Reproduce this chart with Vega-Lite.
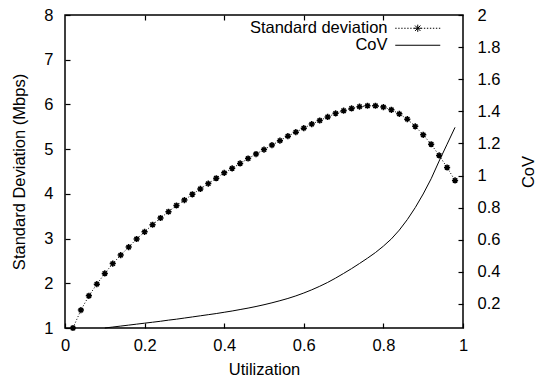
{
  "$schema": "https://vega.github.io/schema/vega-lite/v6.json",
  "width": 398,
  "height": 313,
  "autosize": "none",
  "padding": {"left": 65, "top": 15, "right": 75, "bottom": 52},
  "background": "white",
  "config": {
    "view": {"stroke": "black", "strokeWidth": 1.5},
    "font": "Liberation Sans",
    "axis": {
      "labelFont": "Liberation Sans",
      "titleFont": "Liberation Sans",
      "labelFontSize": 16.5,
      "titleFontSize": 16.5,
      "labelColor": "black",
      "titleColor": "black",
      "titleFontWeight": "normal",
      "grid": false,
      "domain": false,
      "zindex": 1
    }
  },
  "datasets": {
    "sd": [
      {"u": 0.02, "sd": 1.00}, {"u": 0.04, "sd": 1.40}, {"u": 0.06, "sd": 1.72}, {"u": 0.08, "sd": 1.98},
      {"u": 0.10, "sd": 2.22}, {"u": 0.12, "sd": 2.44}, {"u": 0.14, "sd": 2.63}, {"u": 0.16, "sd": 2.81},
      {"u": 0.18, "sd": 2.99}, {"u": 0.20, "sd": 3.15}, {"u": 0.22, "sd": 3.31}, {"u": 0.24, "sd": 3.46},
      {"u": 0.26, "sd": 3.60}, {"u": 0.28, "sd": 3.74}, {"u": 0.30, "sd": 3.86}, {"u": 0.32, "sd": 3.99},
      {"u": 0.34, "sd": 4.11}, {"u": 0.36, "sd": 4.23}, {"u": 0.38, "sd": 4.35}, {"u": 0.40, "sd": 4.47},
      {"u": 0.42, "sd": 4.57}, {"u": 0.44, "sd": 4.68}, {"u": 0.46, "sd": 4.79}, {"u": 0.48, "sd": 4.89},
      {"u": 0.50, "sd": 4.99}, {"u": 0.52, "sd": 5.09}, {"u": 0.54, "sd": 5.19}, {"u": 0.56, "sd": 5.29},
      {"u": 0.58, "sd": 5.38}, {"u": 0.60, "sd": 5.47}, {"u": 0.62, "sd": 5.56}, {"u": 0.64, "sd": 5.64},
      {"u": 0.66, "sd": 5.72}, {"u": 0.68, "sd": 5.80}, {"u": 0.70, "sd": 5.86}, {"u": 0.72, "sd": 5.91},
      {"u": 0.74, "sd": 5.95}, {"u": 0.76, "sd": 5.97}, {"u": 0.78, "sd": 5.97}, {"u": 0.80, "sd": 5.94},
      {"u": 0.82, "sd": 5.88}, {"u": 0.84, "sd": 5.79}, {"u": 0.86, "sd": 5.67}, {"u": 0.88, "sd": 5.51},
      {"u": 0.90, "sd": 5.32}, {"u": 0.92, "sd": 5.11}, {"u": 0.94, "sd": 4.86}, {"u": 0.96, "sd": 4.59},
      {"u": 0.98, "sd": 4.30}
    ],
    "cov": [
      {"u": 0.10, "cov": 0.050}, {"u": 0.12, "cov": 0.056}, {"u": 0.14, "cov": 0.062}, {"u": 0.16, "cov": 0.068},
      {"u": 0.18, "cov": 0.074}, {"u": 0.20, "cov": 0.080}, {"u": 0.22, "cov": 0.086}, {"u": 0.24, "cov": 0.092},
      {"u": 0.26, "cov": 0.099}, {"u": 0.28, "cov": 0.105}, {"u": 0.30, "cov": 0.112}, {"u": 0.32, "cov": 0.119},
      {"u": 0.34, "cov": 0.126}, {"u": 0.36, "cov": 0.133}, {"u": 0.38, "cov": 0.140}, {"u": 0.40, "cov": 0.148},
      {"u": 0.42, "cov": 0.156}, {"u": 0.44, "cov": 0.165}, {"u": 0.46, "cov": 0.174}, {"u": 0.48, "cov": 0.184},
      {"u": 0.50, "cov": 0.195}, {"u": 0.52, "cov": 0.207}, {"u": 0.54, "cov": 0.220}, {"u": 0.56, "cov": 0.234},
      {"u": 0.58, "cov": 0.250}, {"u": 0.60, "cov": 0.268}, {"u": 0.62, "cov": 0.288}, {"u": 0.64, "cov": 0.310},
      {"u": 0.66, "cov": 0.334}, {"u": 0.68, "cov": 0.361}, {"u": 0.70, "cov": 0.390}, {"u": 0.72, "cov": 0.420},
      {"u": 0.74, "cov": 0.452}, {"u": 0.76, "cov": 0.485}, {"u": 0.78, "cov": 0.520}, {"u": 0.80, "cov": 0.560},
      {"u": 0.82, "cov": 0.605}, {"u": 0.84, "cov": 0.660}, {"u": 0.86, "cov": 0.725}, {"u": 0.88, "cov": 0.800},
      {"u": 0.90, "cov": 0.885}, {"u": 0.92, "cov": 0.980}, {"u": 0.94, "cov": 1.090}, {"u": 0.96, "cov": 1.195},
      {"u": 0.98, "cov": 1.300}
    ]
  },
  "layer": [
    {
      "data": {"name": "sd"},
      "layer": [
        {
          "mark": {"type": "line", "strokeDash": [1, 2], "strokeWidth": 1},
          "encoding": {
            "color": {
              "datum": "Standard deviation",
              "type": "nominal",
              "scale": {"domain": ["Standard deviation", "CoV"], "range": ["black", "black"]},
              "legend": {
                "orient": "none",
                "legendX": 344.5,
                "legendY": 5,
                "title": null,
                "padding": 0,
                "symbolType": "stroke",
                "symbolSize": 100,
                "symbolStrokeWidth": 1,
                "symbolStrokeColor": "black",
                "labelAlign": "right",
                "labelOffset": -38.5,
                "labelFont": "Liberation Sans",
                "labelFontSize": 16.5,
                "labelColor": "black",
                "rowPadding": 0,
                "encode": {
                  "symbols": {
                    "update": {
                      "shape": {"signal": "datum.value == 'CoV' ? 'M-4.5,0L4.5,0' : 'M-4.5,0L-4.23,0M-3.9,0L-3.63,0M-3.3,0L-3.03,0M-2.7,0L-2.43,0M-2.1,0L-1.83,0M-1.5,0L-1.23,0M-0.9,0L-0.63,0M0.63,0L0.9,0M1.23,0L1.5,0M1.83,0L2.1,0M2.43,0L2.7,0M3.03,0L3.3,0M3.63,0L3.9,0M4.23,0L4.5,0M-0.72,0L0.72,0M0,-0.72L0,0.72M-0.54,-0.54L0.54,0.54M-0.54,0.54L0.54,-0.54'"},
                      "strokeWidth": {"value": 1}
                    }
                  }
                }
              }
            }
          }
        },
        {
          "mark": {
            "type": "point",
            "shape": "M-1,0L1,0M0,-1L0,1M-0.7,-0.7L0.7,0.7M-0.7,0.7L0.7,-0.7",
            "filled": false,
            "size": 38,
            "strokeWidth": 1.5,
            "color": "black",
            "opacity": 1
          },
          "encoding": {}
        }
      ],
      "encoding": {
        "x": {
          "field": "u",
          "type": "quantitative",
          "scale": {"domain": [0, 1], "nice": false, "zero": false},
          "axis": {
            "orient": "bottom",
            "values": [0, 0.2, 0.4, 0.6, 0.8, 1],
            "format": "~g",
            "ticks": true,
            "tickSize": 5,
            "tickWidth": 1.2,
            "tickColor": "black",
            "offset": -5,
            "labelPadding": 9,
            "title": "Utilization",
            "titlePadding": 8,
            "labelFlush": false
          }
        },
        "y": {
          "field": "sd",
          "type": "quantitative",
          "scale": {"domain": [1, 8], "nice": false, "zero": false},
          "axis": {
            "orient": "left",
            "values": [1, 2, 3, 4, 5, 6, 7, 8],
            "format": "~g",
            "ticks": true,
            "tickSize": 5,
            "tickWidth": 1.2,
            "tickColor": "black",
            "offset": -5,
            "labelPadding": 12,
            "title": "Standard Deviation (Mbps)",
            "titlePadding": 16,
            "labelFlush": false
          }
        }
      }
    },
    {
      "data": {"name": "cov"},
      "mark": {"type": "line", "strokeWidth": 1},
      "encoding": {
        "x": {
          "field": "u",
          "type": "quantitative",
          "scale": {"domain": [0, 1], "nice": false, "zero": false},
          "axis": {
            "orient": "top",
            "values": [0.2, 0.4, 0.6, 0.8],
            "labels": false,
            "ticks": true,
            "tickSize": 5,
            "tickWidth": 1.2,
            "tickColor": "black",
            "offset": -5,
            "title": null
          }
        },
        "y": {
          "field": "cov",
          "type": "quantitative",
          "scale": {"domain": [0.05, 2], "nice": false, "zero": false},
          "axis": {
            "orient": "right",
            "values": [0.2, 0.4, 0.6, 0.8, 1, 1.2, 1.4, 1.6, 1.8, 2],
            "format": "~g",
            "ticks": true,
            "tickSize": 5,
            "tickWidth": 1.2,
            "tickColor": "black",
            "offset": -5,
            "labelPadding": 14,
            "title": "CoV",
            "titleAngle": 270,
            "titlePadding": 37,
            "labelFlush": false
          }
        },
        "color": {"datum": "CoV", "type": "nominal"}
      }
    }
  ],
  "resolve": {"scale": {"y": "independent"}, "axis": {"x": "independent"}}
}
